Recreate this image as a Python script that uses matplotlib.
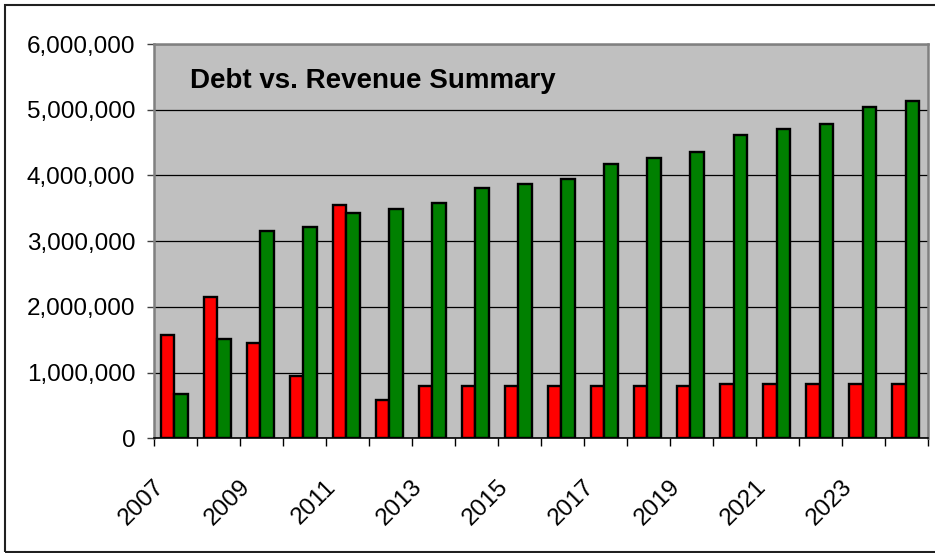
import numpy as np
import matplotlib
matplotlib.use("Agg")
import matplotlib.pyplot as plt
from matplotlib.patches import Rectangle
from matplotlib.ticker import FuncFormatter

plt.rcParams['font.family'] = ['Liberation Sans', 'DejaVu Sans']

years = list(range(2007, 2025))
debt = [1570000, 2155000, 1446000, 953000, 3550000, 583000, 796000, 796000, 796000,
        796000, 796000, 796000, 796000, 832000, 832000, 832000, 832000, 832000]
revenue = [674000, 1507000, 3150000, 3210000, 3430000, 3490000, 3586000, 3805000, 3866000,
           3950000, 4175000, 4266000, 4358000, 4610000, 4700000, 4790000, 5040000, 5130000]
title = "Debt vs. Revenue Summary"

fig = plt.figure(figsize=(9.35, 5.53), dpi=100)
ax = fig.add_axes([0.1642, 0.2074, 0.9925 - 0.1642, 0.9204 - 0.2074])
ax.set_facecolor('#C0C0C0')

x = np.arange(len(years))
w = 0.31
ax.bar(x + 0.17, debt, width=w, align='edge', color='#FF0000', edgecolor='black', linewidth=1.7, zorder=3)
ax.bar(x + 0.17 + w, revenue, width=w, align='edge', color='#008000', edgecolor='black', linewidth=1.7, zorder=3)

ax.set_xlim(0, len(years))
ax.set_ylim(0, 6000000)
ax.set_yticks(np.arange(0, 6000001, 1000000))
ax.yaxis.set_major_formatter(FuncFormatter(lambda v, p: f"{int(v):,}"))
ax.grid(axis='y', color='black', linewidth=0.9, zorder=1)
ax.tick_params(axis='y', length=5, width=1, pad=8, labelsize=17.5, color='#404040')

# ticks at category edges, labels every other year
ax.set_xticks(np.arange(0, len(years) + 1))
ax.set_xticklabels([])
ax.tick_params(axis='x', which='major', length=6, width=1, color='black', direction='out')
ax.set_xticks(x[::2] + 0.35, minor=True)
ax.set_xticklabels([str(y) for y in years[::2]], minor=True, rotation=45, ha='right')
ax.tick_params(axis='x', which='minor', length=0, pad=27, labelsize=17.5)

for s in ['top', 'right', 'left']:
    ax.spines[s].set_color('#808080')
    ax.spines[s].set_linewidth(1.8)
ax.spines['bottom'].set_color('black')
ax.spines['bottom'].set_linewidth(1.2)

ax.text(0.047, 0.905, title, transform=ax.transAxes, fontsize=20, fontweight='bold',
        ha='left', va='center', zorder=5)

fig.patches.append(Rectangle((4.5 / 935, 1.5 / 553), 940 / 935, 547 / 553, transform=fig.transFigure,
                             fill=False, edgecolor='#202020', linewidth=1.5))

fig.savefig('out.png', dpi=100)
